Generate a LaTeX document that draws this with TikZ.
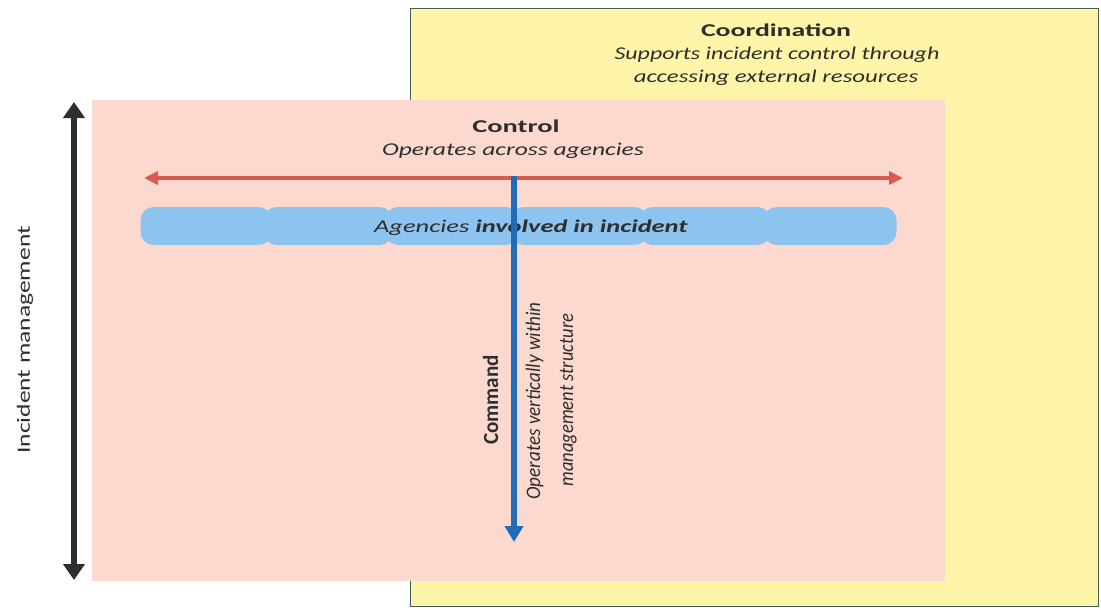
\documentclass[tikz,border=0pt]{standalone}
\usepackage{fontspec}
\usepackage{graphicx}
\setmainfont{Carlito}
\usetikzlibrary{arrows.meta}
\definecolor{yel}{HTML}{FEF5A9}
\definecolor{yelbd}{HTML}{425C58}
\definecolor{pnk}{HTML}{FCD9CE}
\definecolor{redar}{HTML}{D95B4F}
\definecolor{bluebar}{HTML}{8DC3EF}
\definecolor{bluear}{HTML}{1F6DBA}
\definecolor{txt}{HTML}{2E2E2E}
\newcommand{\sx}[3]{\scalebox{#1}[#2]{#3}}
\tikzset{
  lbl/.style={text=txt, font=\fontsize{18}{22}\selectfont, inner sep=0pt, anchor=base},
  vlbl/.style={lbl, rotate=90},
  seg/.style={fill=bluebar, rounded corners=13pt, draw=none, minimum height=38pt, inner sep=0pt},
}
\begin{document}
\begin{tikzpicture}[x=1pt,y=-1pt]
\useasboundingbox (0,0) rectangle (1101,610);
\fill[white] (0,0) rectangle (1101,610);
% coordination box
\node[draw=yelbd, line width=1.4pt, fill=yel, minimum width=688pt, minimum height=598pt, inner sep=0pt, anchor=north west] (coord) at (410,8) {};
% control box
\node[fill=pnk, minimum width=853pt, minimum height=481pt, inner sep=0pt, anchor=north west] (ctrl) at (92,100) {};
% texts
\node[lbl] (coordt) at (776,37) {\sx{1.54}{1}{\textbf{Coordination}}};
\node[lbl] (coords1) at (777,60) {\sx{1.33}{1}{\textit{Supports incident control through}}};
\node[lbl] (coords2) at (776,83) {\sx{1.38}{1}{\textit{accessing external resources}}};
\node[lbl] (ctrlt) at (516,132) {\sx{1.58}{1}{\textbf{Control}}};
\node[lbl] (ctrls) at (513,155) {\sx{1.42}{1}{\textit{Operates across agencies}}};
% blue bar segments
\node[seg, minimum width=131pt] (s1) at (206,226) {};
\node[seg, minimum width=129pt] (s2) at (328,226) {};
\node[seg, minimum width=134pt] (s3) at (452,226) {};
\node[seg, minimum width=137pt] (s4) at (579,226) {};
\node[seg, minimum width=131pt] (s5) at (705,226) {};
\node[seg, minimum width=133pt] (s6) at (830,226) {};
\node[lbl] (agt) at (531,232) {\sx{1.47}{1}{\textit{Agencies \textbf{involved in incident}}}};
% red arrow
\coordinate (rl) at (144,178);
\coordinate (rr) at (903,178);
\draw[redar, line width=3.5pt, {Triangle[length=14pt,width=13pt]}-{Triangle[length=14pt,width=13pt]}] (rl) -- (rr);
% blue arrow
\coordinate (bt) at (514,176);
\coordinate (bb) at (514,542);
\draw[bluear, line width=5.5pt, -{Triangle[length=16pt,width=18pt]}] (bt) -- (bb);
\node[vlbl] (cmd) at (498,400) {\sx{1.17}{1.2}{\textbf{Command}}};
\node[vlbl] (cmds1) at (540,401) {\sx{1.06}{1.15}{\textit{Operates vertically within}}};
\node[vlbl] (cmds2) at (573,400) {\sx{1.03}{1.15}{\textit{management structure}}};
% black arrow
\coordinate (kt) at (74,102);
\coordinate (kb) at (74,580);
\draw[txt, line width=5.5pt, {Triangle[length=16pt,width=21pt]}-{Triangle[length=16pt,width=21pt]}] (kt) -- (kb);
\node[vlbl] (im) at (30,340) {\sx{1.5}{1.1}{\fontsize{17}{20}\selectfont Incident management}};
\end{tikzpicture}
\end{document}
